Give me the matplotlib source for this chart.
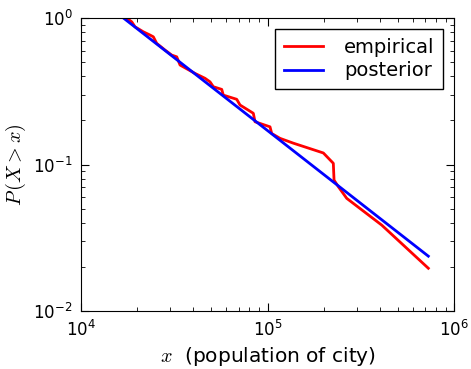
import matplotlib
matplotlib.use("Agg")
import matplotlib.pyplot as plt

# ── Data ─────────────────────────────────────────────────────────────────────
emp_x = [17580, 18700, 19480, 21580, 23440, 24420, 25460, 28210, 30640, 32600,
         33960, 40860, 46230, 49170, 51220, 56810, 57940, 68360, 71220, 83910,
         85700, 103100, 105300, 116700, 137500, 199200, 225300, 227300, 239700,
         265900, 409700, 728000]
emp_y = [1.0, 0.943, 0.872, 0.806, 0.766, 0.745, 0.672, 0.605, 0.559, 0.544,
         0.478, 0.419, 0.388, 0.367, 0.340, 0.326, 0.298, 0.279, 0.255, 0.224,
         0.196, 0.181, 0.163, 0.151, 0.140, 0.120, 0.102, 0.0784, 0.0706,
         0.0588, 0.0386, 0.0196]

post_x = [16900, 728000]
post_y = [1.0, 0.0237]

# ── Style ────────────────────────────────────────────────────────────────────
plt.rcParams["mathtext.fontset"] = "cm"
plt.rcParams["font.family"] = "DejaVu Sans"

fig = plt.figure(figsize=(4.71, 3.69), dpi=100)
ax = fig.add_axes([0.172, 0.157, 0.792, 0.794])

ax.plot(emp_x, emp_y, color="red", linewidth=2, label="empirical")
ax.plot(post_x, post_y, color="blue", linewidth=2, label="posterior")

ax.set_xscale("log")
ax.set_yscale("log")
ax.set_xlim(1e4, 1e6)
ax.set_ylim(1e-2, 1e0)

ax.tick_params(which="both", direction="in", top=True, right=True,
               labelsize=12, pad=6)
ax.tick_params(which="major", length=6)
ax.tick_params(which="minor", length=3)

ax.set_xlabel(r"$x$  (population of city)", fontsize=14.5)
ax.set_ylabel(r"$P\,(X>x)$", fontsize=14.5)

leg = ax.legend(loc="upper right", fontsize=14, fancybox=False,
                framealpha=1, edgecolor="black", borderaxespad=0.55,
                handlelength=2.0, handletextpad=1.1, labelspacing=0.25,
                borderpad=0.45)
leg.get_frame().set_linewidth(1.0)

fig.savefig("out.png", dpi=100)
